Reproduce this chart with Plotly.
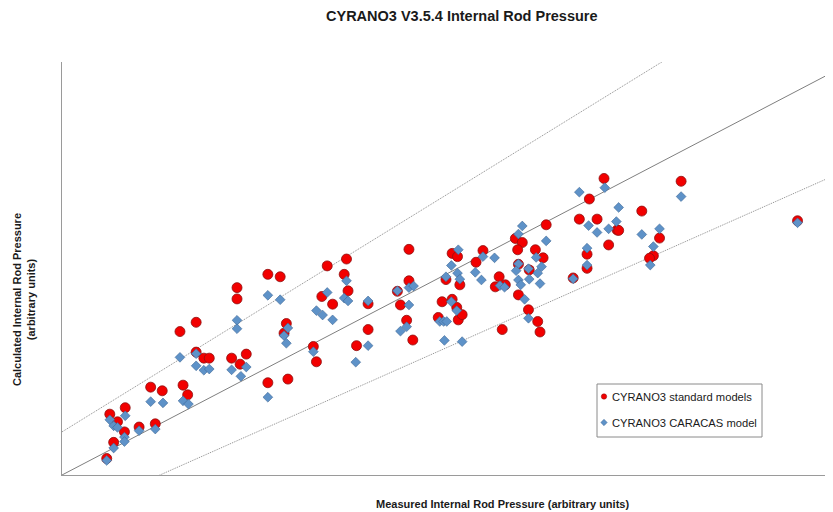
import plotly.graph_objects as go

# Measured (x) and calculated (y) internal rod pressure, arbitrary units
std_measured = [5.8, 6.7, 6.2, 7.2, 8.1, 8.2, 10.0, 12.1, 11.5, 13.0, 15.7, 16.3, 15.3, 17.4, 17.4,
                18.4, 19.1, 22.0, 23.9, 23.1, 22.7, 22.7, 26.7, 28.3, 26.7, 29.3, 29.1, 28.8,
                32.6, 33.0, 33.7, 35.1, 34.4, 36.9, 36.6, 37.1, 39.7, 39.7, 38.2, 43.5, 45.0,
                45.0, 43.9, 44.7, 45.5, 49.3, 50.6, 51.2, 48.8, 51.4, 51.9, 49.8, 51.6, 50.6,
                51.3, 54.6, 53.7, 56.7, 56.2, 57.5, 57.1, 58.8, 59.7, 59.1, 59.2, 59.2, 60.6,
                60.5, 61.7, 62.0, 61.4, 62.4, 62.8, 66.3, 70.3, 80.3, 68.4, 75.2, 67.1, 69.4,
                72.0, 72.2, 70.9, 77.5, 68.1, 68.1, 76.7, 76.2, 95.4, 100.0]
std_calculated = [4.1, 8.1, 15.1, 13.2, 10.7, 16.7, 11.9, 12.7, 21.8, 20.9, 22.3, 19.9, 35.6, 37.9, 30.5,
                  29.0, 29.0, 29.0, 30.0, 27.5, 46.5, 43.7, 49.8, 49.2, 22.9, 23.8, 37.6, 35.2,
                  31.9, 28.1, 44.3, 42.4, 51.9, 53.6, 49.8, 45.7, 42.5, 36.1, 32.1, 45.6, 56.0,
                  48.2, 42.2, 38.4, 33.5, 43.0, 43.6, 41.6, 39.1, 38.5, 39.8, 48.5, 47.2, 55.0,
                  54.2, 55.7, 52.8, 49.2, 46.7, 47.2, 36.1, 58.7, 57.7, 55.9, 52.3, 44.7, 50.9,
                  41.0, 38.1, 35.5, 55.9, 53.9, 62.1, 48.9, 73.6, 72.9, 68.5, 65.5, 63.5, 63.5,
                  60.8, 60.7, 57.1, 58.8, 54.8, 51.3, 54.4, 53.8, 63.1, 65.3]

car_measured = [5.8, 6.7, 6.2, 6.7, 7.2, 8.2, 8.1, 8.1, 10.0, 12.1, 11.5, 13.1, 15.7, 16.4, 26.7,
                15.3, 17.4, 17.4, 18.4, 19.1, 22.0, 23.9, 23.2, 22.7, 22.7, 26.7, 28.3, 29.3,
                28.8, 29.1, 32.6, 33.0, 33.8, 35.1, 34.4, 36.9, 36.6, 37.1, 39.7, 39.7, 38.1,
                43.5, 45.0, 45.6, 45.0, 44.7, 43.9, 59.7, 59.2, 62.8, 51.4, 54.6, 56.1, 50.5,
                51.3, 51.6, 49.8, 53.6, 54.4, 59.2, 58.9, 61.5, 62.2, 61.7, 60.5, 60.6, 62.0,
                59.2, 59.5, 56.8, 57.4, 66.3, 50.5, 51.2, 49.0, 49.5, 49.9, 60.0, 60.5, 49.6,
                51.9, 67.1, 70.4, 80.3, 72.2, 68.3, 69.4, 70.9, 71.9, 75.2, 77.5, 76.7, 68.1,
                68.1, 76.3, 95.4, 100.2]
car_calculated = [3.6, 6.7, 13.7, 12.2, 11.8, 14.7, 9.4, 8.3, 11.0, 11.4, 18.2, 17.9, 18.4, 17.6, 19.3,
                  29.2, 30.1, 27.1, 26.0, 26.3, 26.1, 26.8, 24.5, 38.4, 36.3, 44.6, 43.5, 36.5,
                  34.6, 32.7, 30.6, 40.8, 39.7, 38.5, 45.3, 48.2, 43.9, 43.2, 43.2, 32.1, 28.0,
                  45.7, 46.5, 46.9, 42.2, 36.8, 35.7, 61.8, 59.8, 58.1, 55.9, 54.2, 53.9, 52.0,
                  50.1, 48.6, 49.2, 50.3, 48.4, 52.4, 50.7, 54.0, 51.7, 50.1, 51.2, 48.6, 47.5,
                  48.4, 47.2, 47.0, 46.6, 48.7, 43.0, 40.8, 38.1, 38.1, 38.1, 43.6, 38.9, 33.4,
                  33.1, 70.2, 71.3, 69.1, 66.4, 61.9, 60.2, 61.1, 62.9, 59.7, 61.1, 56.7, 56.3,
                  52.1, 52.1, 62.6, 67.0]

# Reference lines: y = x and the two dotted bounds
line_x = [0, 110]
ident_y = [0, 110]
upper_y = [10.7, 140.5]
lower_y = [-10.8, 82.7]

series_names = ["CYRANO3 standard models", "CYRANO3 CARACAS model"]
title_text = "CYRANO3 V3.5.4 Internal Rod Pressure"
x_title = "Measured Internal Rod Pressure (arbitrary units)"
y_title = "Calculated Internal Rod Pressure<br>(arbitrary units)"

RED = "#F20000"
RED_EDGE = "#8E1010"
BLUE = "#5E92C8"
BLUE_EDGE = "#3D6796"
FONT = "Liberation Sans, Arial, sans-serif"

fig = go.Figure()
fig.add_trace(go.Scatter(x=line_x, y=upper_y, mode="lines", showlegend=False,
                         line=dict(color="#8c8c8c", width=1, dash="1px,1px"), hoverinfo="skip"))
fig.add_trace(go.Scatter(x=line_x, y=lower_y, mode="lines", showlegend=False,
                         line=dict(color="#8c8c8c", width=1, dash="1px,1px"), hoverinfo="skip"))
fig.add_trace(go.Scatter(x=line_x, y=ident_y, mode="lines", showlegend=False,
                         line=dict(color="#7f7f7f", width=1), hoverinfo="skip"))
fig.add_trace(go.Scatter(x=std_measured, y=std_calculated, mode="markers", name=series_names[0],
                         showlegend=False,
                         marker=dict(symbol="circle", size=10, color=RED,
                                     line=dict(color=RED_EDGE, width=0.8))))
fig.add_trace(go.Scatter(x=car_measured, y=car_calculated, mode="markers", name=series_names[1],
                         showlegend=False,
                         marker=dict(symbol="diamond", size=7.5, color=BLUE,
                                     line=dict(color=BLUE_EDGE, width=0.6))))

# The page body adds an 8px offset; positions below are window pixels.
# The chart is wider than the window (cropped on the right as in the reference).
OFF = 8
VIEW_W, VIEW_H = 833, 512
R = 845                      # plot area right edge (beyond the window)
L, T, B = 62, 62, 475        # plot area in window pixels
W, H = R - OFF, VIEW_H - OFF
pw, ph = R - L, B - T
UNIT_X = 7.71                # pixels per x unit
X_MAX = pw / UNIT_X


def px_x(x):
    return (x - L) / pw


def px_y(y):
    return (B - y) / ph


shapes = [
    dict(type="rect", xref="paper", yref="paper",
         x0=px_x(597), x1=px_x(762), y0=px_y(437), y1=px_y(384),
         line=dict(color="#8a8a8a", width=1), fillcolor="white", layer="above"),
    dict(type="circle", xref="paper", yref="paper", xsizemode="pixel", ysizemode="pixel",
         xanchor=px_x(604), yanchor=px_y(396.5), x0=-2.7, x1=2.7, y0=-2.7, y1=2.7,
         fillcolor=RED, line=dict(color=RED_EDGE, width=0.5), layer="above"),
    dict(type="path", xref="paper", yref="paper", xsizemode="pixel", ysizemode="pixel",
         xanchor=px_x(604), yanchor=px_y(422.5), path="M -3.2 0 L 0 3.2 L 3.2 0 L 0 -3.2 Z",
         fillcolor=BLUE, line=dict(color=BLUE_EDGE, width=0.5), layer="above"),
]

annotations = [
    dict(text=series_names[0], xref="paper", yref="paper", x=px_x(609.5), y=px_y(396.5),
         xanchor="left", yanchor="middle", showarrow=False,
         font=dict(family=FONT, size=11.2, color="#1a1a1a")),
    dict(text=series_names[1], xref="paper", yref="paper", x=px_x(609.5), y=px_y(422.5),
         xanchor="left", yanchor="middle", showarrow=False,
         font=dict(family=FONT, size=11.2, color="#1a1a1a")),
    dict(text="<b>" + x_title + "</b>", xref="paper", yref="paper", x=px_x(502), y=px_y(504),
         xanchor="center", yanchor="middle", showarrow=False,
         font=dict(family=FONT, size=11, color="#1a1a1a")),
    dict(text="<b>" + y_title + "</b>", xref="paper", yref="paper", x=px_x(24), y=px_y(300),
         xanchor="center", yanchor="middle", showarrow=False, textangle=-90,
         font=dict(family=FONT, size=11, color="#1a1a1a")),
    dict(text="<b>" + title_text + "</b>", xref="paper", yref="paper", x=px_x(462), y=px_y(16),
         xanchor="center", yanchor="middle", showarrow=False,
         font=dict(family=FONT, size=14.5, color="#1a1a1a")),
]

fig.update_layout(
    width=W, height=H,
    margin=dict(l=L - OFF, r=0, t=T - OFF, b=VIEW_H - B, pad=0),
    paper_bgcolor="white", plot_bgcolor="white",
    showlegend=False,
    shapes=shapes,
    annotations=annotations,
    xaxis=dict(range=[0, X_MAX], showgrid=False, zeroline=False, showticklabels=False, ticks="",
               showline=True, linecolor="#9a9a9a", linewidth=1, fixedrange=True),
    yaxis=dict(range=[0, 102.5], showgrid=False, zeroline=False, showticklabels=False, ticks="",
               showline=True, linecolor="#9a9a9a", linewidth=1, fixedrange=True),
)

fig.write_html("out.html")
